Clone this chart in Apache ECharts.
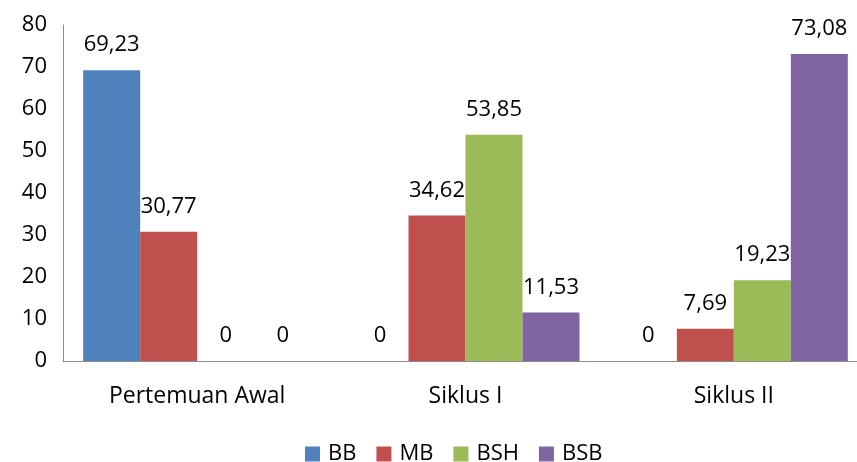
<!DOCTYPE html>
<html><head><meta charset="utf-8">
<script src="https://cdn.jsdelivr.net/npm/echarts@6/dist/echarts.min.js"></script>
<style>html,body{margin:0;padding:0;background:#fff}#c{width:857px;height:462px}</style>
</head><body><div id="c"></div>
<script>
const categories = ["Pertemuan Awal", "Siklus I", "Siklus II"];
const seriesNames = ["BB", "MB", "BSH", "BSB"];
const BB = [69.23, 0, 0];
const MB = [30.77, 34.62, 7.69];
const BSH = [0, 53.85, 19.23];
const BSB = [0, 11.53, 73.08];
const colors = ["#4F81BD", "#C0504D", "#9BBB59", "#8064A2"];
const FONT = "Open Sans";
const chart = echarts.init(document.getElementById('c'));
const dataSets = [BB, MB, BSH, BSB];
chart.setOption({
  animation: false,
  textStyle: {fontFamily: FONT},
  grid: {left: 63, top: 25, width: 805, height: 336, outerBoundsMode: 'none', containLabel: false},
  legend: {
    data: seriesNames, top: 438, left: 300, icon: 'rect',
    itemWidth: 15, itemHeight: 15, itemGap: 20,
    textStyle: {fontFamily: FONT, fontSize: 22, color: '#000', padding: [0, 0, 0, 3]}
  },
  xAxis: {
    type: 'category', data: categories,
    axisLine: {lineStyle: {color: '#8c8c8c', width: 1}},
    axisTick: {show: false},
    axisLabel: {fontFamily: FONT, fontSize: 23, color: '#000', margin: 24}
  },
  yAxis: {
    type: 'value', min: 0, max: 80, interval: 10,
    axisLine: {show: true, lineStyle: {color: '#8c8c8c', width: 1}},
    axisTick: {show: false},
    splitLine: {show: false},
    axisLabel: {fontFamily: FONT, fontSize: 22, color: '#000', margin: 16}
  },
  series: dataSets.map((d, i) => ({
    name: seriesNames[i], type: 'bar', data: d,
    barWidth: 57, barGap: '0%',
    itemStyle: {color: colors[i]},
    label: {
      show: true, position: 'top', distance: 14,
      fontFamily: FONT, fontSize: 22, color: '#000',
      formatter: p => String(p.value).replace('.', ',')
    }
  }))
});
</script></body></html>
